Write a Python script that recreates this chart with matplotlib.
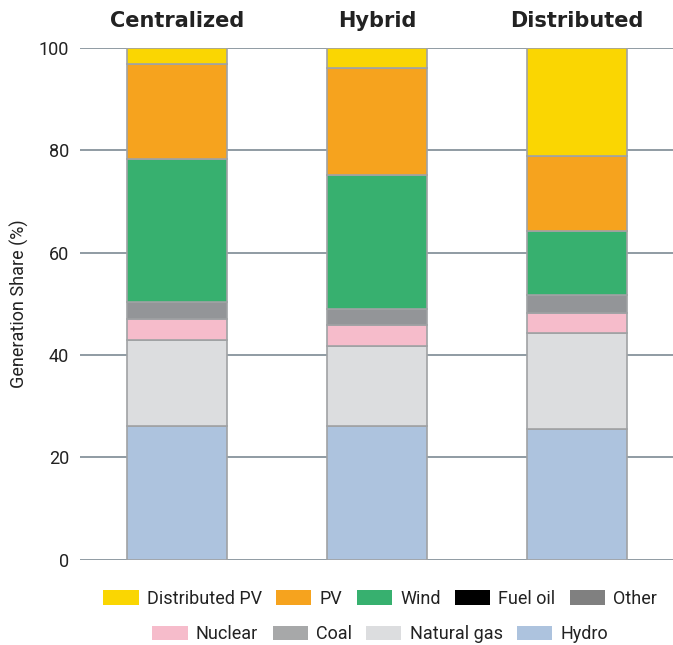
import numpy as np
import matplotlib
matplotlib.use('Agg')
import matplotlib.pyplot as plt
from matplotlib.patches import Patch

plt.rcParams['font.family'] = ['Roboto', 'DejaVu Sans']

# data (generation share, %)
scenarios = ['Centralized', 'Hybrid', 'Distributed']
hydro = [26.2, 26.1, 25.6]
natural_gas = [16.8, 15.7, 18.7]
coal = [0.0, 0.0, 0.0]
nuclear = [4.0, 4.0, 4.0]
other = [3.3, 3.2, 3.5]
fuel_oil = [0.0, 0.0, 0.0]
wind = [28.0, 26.2, 12.5]
pv = [18.6, 20.9, 14.6]
dist_pv = [3.1, 3.9, 21.1]

layers = [('Hydro', hydro, '#adc3de'),
          ('Natural gas', natural_gas, '#dcdddf'),
          ('Coal', coal, '#a7a8a9'),
          ('Nuclear', nuclear, '#f6bccb'),
          ('Other', other, '#939598'),
          ('Fuel oil', fuel_oil, '#000000'),
          ('Wind', wind, '#37b06f'),
          ('PV', pv, '#f6a31e'),
          ('Distributed PV', dist_pv, '#fad602')]

fig = plt.figure(figsize=(6.73, 6.45), dpi=100)
ax = fig.add_axes([0.119, 0.132, 0.881, 0.7938])

x = np.arange(len(scenarios))
bottom = np.zeros(len(scenarios))
for name, vals, col in layers:
    vals = np.array(vals)
    ax.bar(x, vals, width=0.5, bottom=bottom, color=col,
           edgecolor='#a0a2a4', linewidth=1.2, zorder=3)
    bottom += vals

ax.set_xlim(-0.485, 2.48)
ax.set_ylim(0, 100)
ax.set_yticks([0, 20, 40, 60, 80, 100])
ax.set_xticks([])
ax.grid(axis='y', color='#7d8a94', linewidth=1.2, zorder=0)
for s in ax.spines.values():
    s.set_visible(False)
ax.tick_params(axis='y', length=0, pad=8, labelsize=13, labelcolor='#222222')
ax.set_ylabel('Generation Share (%)', fontsize=13, color='#222222', labelpad=7)

for xi, name in zip(x, scenarios):
    ax.text(xi, 103.3, name, ha='center', va='bottom', fontsize=15,
            fontweight='bold', color='#222222',
            family=['Liberation Sans Narrow', 'DejaVu Sans'])

# legend in two rows
colors = {n: c for n, v, c in layers}
row1 = ['Distributed PV', 'PV', 'Wind', 'Fuel oil', 'Other']
row2 = ['Nuclear', 'Coal', 'Natural gas', 'Hydro']
colors['Other'] = '#808080'
for names, ypos in [(row1, 0.072), (row2, 0.017)]:
    handles = [Patch(facecolor=colors[n], edgecolor='none') for n in names]
    leg = fig.legend(handles, names, loc='center', bbox_to_anchor=(0.565, ypos),
                     ncol=len(names), frameon=False, fontsize=13,
                     handlelength=1.95, handleheight=0.85, handletextpad=0.45,
                     columnspacing=0.8)
    for t in leg.get_texts():
        t.set_color('#222222')

fig.savefig('out.png')
